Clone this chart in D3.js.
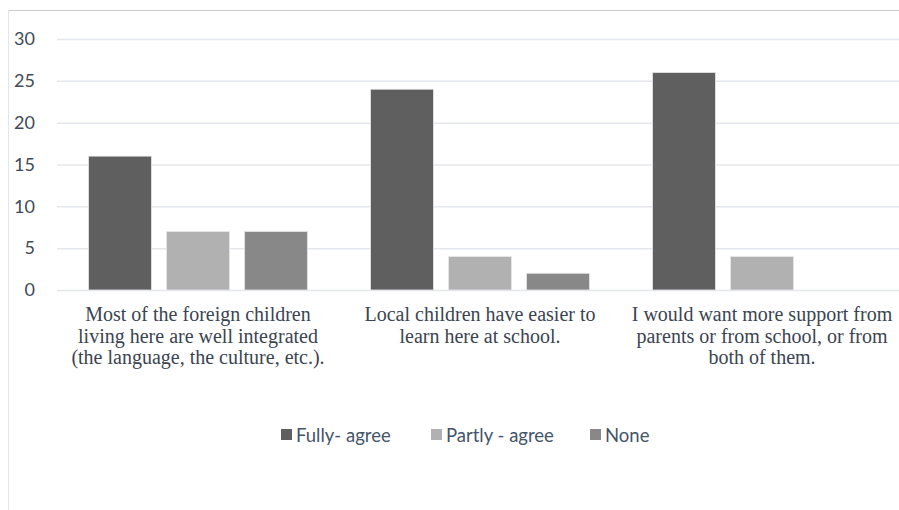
<!DOCTYPE html>
<html><head><meta charset="utf-8">
<script src="https://cdn.jsdelivr.net/npm/d3@7"></script>
<style>body{margin:0;background:#fff;} svg{display:block;}</style>
</head><body>
<svg id="c" width="899" height="510"></svg>
<script>
const categories = ["c1","c2","c3"];
const categoryLines = [
  ["Most of the foreign children","living here are well integrated","(the language, the culture, etc.)."],
  ["Local children have easier to","learn here at school."],
  ["I would want more support from","parents or from school, or from","both of them."]
];
const seriesNames = ["Fully- agree","Partly - agree","None"];
const fullyAgree = [16,24,26];
const partlyAgree = [7,4,4];
const none = [7,2,0];
const yTicks = [0,5,10,15,20,25,30];
const colors = ["#5f5f5f","#b1b1b1","#888888"];
const seriesValues = [fullyAgree, partlyAgree, none];

const svg = d3.select("#c");
// chart frame
svg.append("line").attr("x1",8).attr("x2",899).attr("y1",10.5).attr("y2",10.5).attr("stroke","#c9ccd1");
svg.append("line").attr("x1",8.5).attr("x2",8.5).attr("y1",10).attr("y2",510).attr("stroke","#e3e5e8");

const y = d3.scaleLinear().domain([0,30]).range([290,39]);
const x0 = d3.scaleBand().domain(categories).range([57,903]).paddingInner(0.2234).paddingOuter(0.1117);
const x1 = d3.scaleBand().domain(seriesNames).range([0,x0.bandwidth()]).paddingInner(0.192).paddingOuter(0);

// gridlines
const yAxis = d3.axisLeft(y).tickValues(yTicks).tickSize(-(899-57)).tickPadding(22);
const ga = svg.append("g").attr("transform","translate(57,0)").call(yAxis);
ga.select(".domain").remove();
ga.selectAll(".tick line").attr("stroke","#e4e7ec").attr("stroke-width",1.5);
ga.selectAll(".tick text").attr("font-family","Lato, 'Open Sans', sans-serif").attr("font-size",18).attr("fill","#404a5a");

// bars
const groups = svg.append("g").selectAll("g").data(categories).join("g")
  .attr("transform",d=>`translate(${x0(d)},0)`);
groups.selectAll("rect").data((d,i)=>seriesNames.map((s,j)=>({s,j,v:seriesValues[j][i]})))
  .join("rect")
  .attr("x",d=>x1(d.s)).attr("width",x1.bandwidth())
  .attr("y",d=>y(d.v)).attr("height",d=>y(0)-y(d.v))
  .attr("fill",d=>colors[d.j])
  .attr("stroke",d=>d.v>0?"#e8e8e8":"none").attr("stroke-width",0.8);

// category labels
const lab = svg.append("g").selectAll("text").data(categories).join("text")
  .attr("x",d=>x0(d)+x0.bandwidth()/2).attr("y",321)
  .attr("text-anchor","middle")
  .attr("font-family","'Liberation Serif', 'Times New Roman', serif")
  .attr("font-size",20).attr("fill","#3b4452");
lab.each(function(d,i){
  d3.select(this).selectAll("tspan").data(categoryLines[i]).join("tspan")
    .attr("x",x0(d)+x0.bandwidth()/2).attr("dy",(t,k)=>k===0?0:21.5).text(t=>t);
});

// legend
const legX = [281,431,590];
const leg = svg.append("g").selectAll("g").data(seriesNames).join("g")
  .attr("transform",(d,i)=>`translate(${legX[i]},0)`);
leg.append("rect").attr("x",0).attr("y",429).attr("width",11).attr("height",11).attr("fill",(d,i)=>colors[i]);
leg.append("text").attr("x",15).attr("y",441.5).text(d=>d)
  .attr("font-family","Lato, 'Open Sans', sans-serif").attr("font-size",18.5).attr("fill","#44546a");
</script>
</body></html>
